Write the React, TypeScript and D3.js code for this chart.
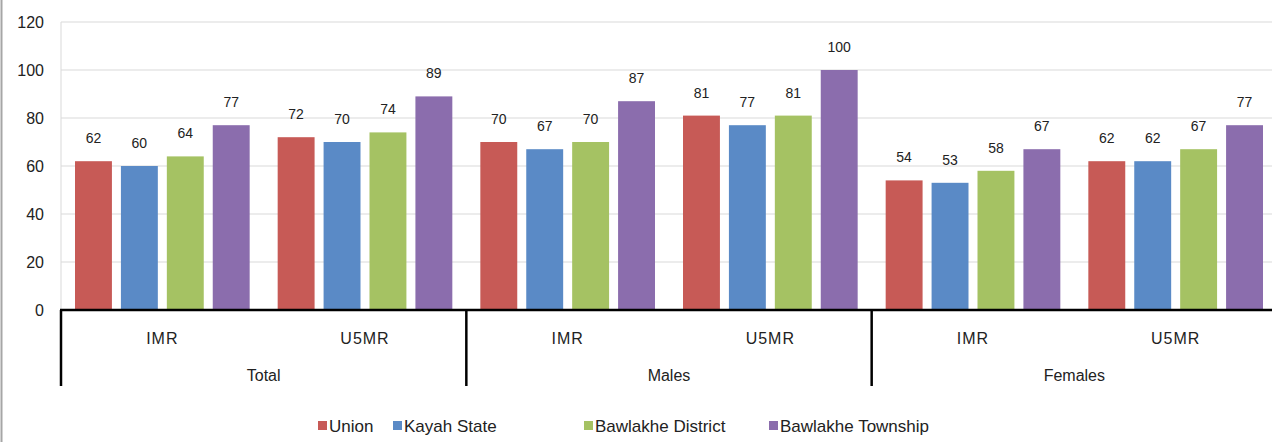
import * as d3 from "d3";

const groups = ["Total", "Males", "Females"];
const measures = ["IMR", "U5MR"];
const seriesNames = ["Union", "Kayah State", "Bawlakhe District", "Bawlakhe Township"];
const seriesColors = ["#C75A56", "#5A8AC6", "#A5C263", "#8B6DAD"];
// values[group][measure][series]
const totalValues = [[62, 60, 64, 77], [72, 70, 74, 89]];
const maleValues = [[70, 67, 70, 87], [81, 77, 81, 100]];
const femaleValues = [[54, 53, 58, 67], [62, 62, 67, 77]];
const yTicks = [0, 20, 40, 60, 80, 100, 120];

const W = 1272, H = 442;
const left = 61, right = 1277, top = 22, bottom = 310;
const font = "'Liberation Sans', Arial, sans-serif";

export default function App() {
  const values = [totalValues, maleValues, femaleValues];
  const y = d3.scaleLinear().domain([0, 120]).range([bottom, top]);
  const xg = d3.scaleBand().domain(groups).range([left, right]).padding(0);
  const xm = d3.scaleBand().domain(measures).range([0, xg.bandwidth()]).padding(0);
  const xs = d3.scaleBand().domain(seriesNames).range([0, xm.bandwidth()])
    .paddingInner(0.196).paddingOuter(0.305);

  const legendX = [318, 393, 584, 769];

  return (
    <svg width={W} height={H} style={{ display: "block", position: "absolute", left: 0, top: 0, background: "#fff" }}>
      <line x1={1.5} x2={1.5} y1={0} y2={H} stroke="#a6a6a6" strokeWidth={2} />
      {yTicks.map(t => (
        <g key={t}>
          {t > 0 && <line x1={left} x2={right} y1={y(t)} y2={y(t)} stroke="#d9d9d9" strokeWidth={1} />}
          <text x={44} y={y(t)} dy="0.35em" textAnchor="end" fontFamily={font} fontSize={16} fill="#222">{t}</text>
        </g>
      ))}
      <line x1={left} x2={left} y1={top} y2={bottom} stroke="#d9d9d9" />
      {groups.map((g, gi) => (
        <g key={g} transform={`translate(${xg(g)},0)`}>
          {measures.map((m, mi) => (
            <g key={m} transform={`translate(${xm(m)},0)`}>
              {seriesNames.map((s, si) => {
                const v = values[gi][mi][si];
                return (
                  <g key={s}>
                    <rect x={xs(s)} y={y(v)} width={xs.bandwidth()} height={bottom - y(v)} fill={seriesColors[si]} />
                    <text x={(xs(s) ?? 0) + xs.bandwidth() / 2} y={y(v) - 23} dy="0.35em" textAnchor="middle"
                      fontFamily={font} fontSize={14} fill="#222">{v}</text>
                  </g>
                );
              })}
              <text x={xm.bandwidth() / 2} y={338} textAnchor="middle" dy="0.35em" fontFamily={font}
                fontSize={16} letterSpacing={1} fill="#222">{m}</text>
            </g>
          ))}
          <text x={xg.bandwidth() / 2} y={375} textAnchor="middle" dy="0.35em" fontFamily={font}
            fontSize={16} fill="#222">{g}</text>
          <line x1={0} x2={0} y1={bottom} y2={386} stroke="#000" strokeWidth={2.5} />
        </g>
      ))}
      <line x1={left - 1} x2={right} y1={bottom} y2={bottom} stroke="#000" strokeWidth={2.5} />
      {seriesNames.map((s, i) => (
        <g key={s}>
          <rect x={legendX[i]} y={421} width={9} height={9} fill={seriesColors[i]} />
          <text x={legendX[i] + 11} y={426} dy="0.35em" fontFamily={font} fontSize={17} fill="#222">{s}</text>
        </g>
      ))}
    </svg>
  );
}
